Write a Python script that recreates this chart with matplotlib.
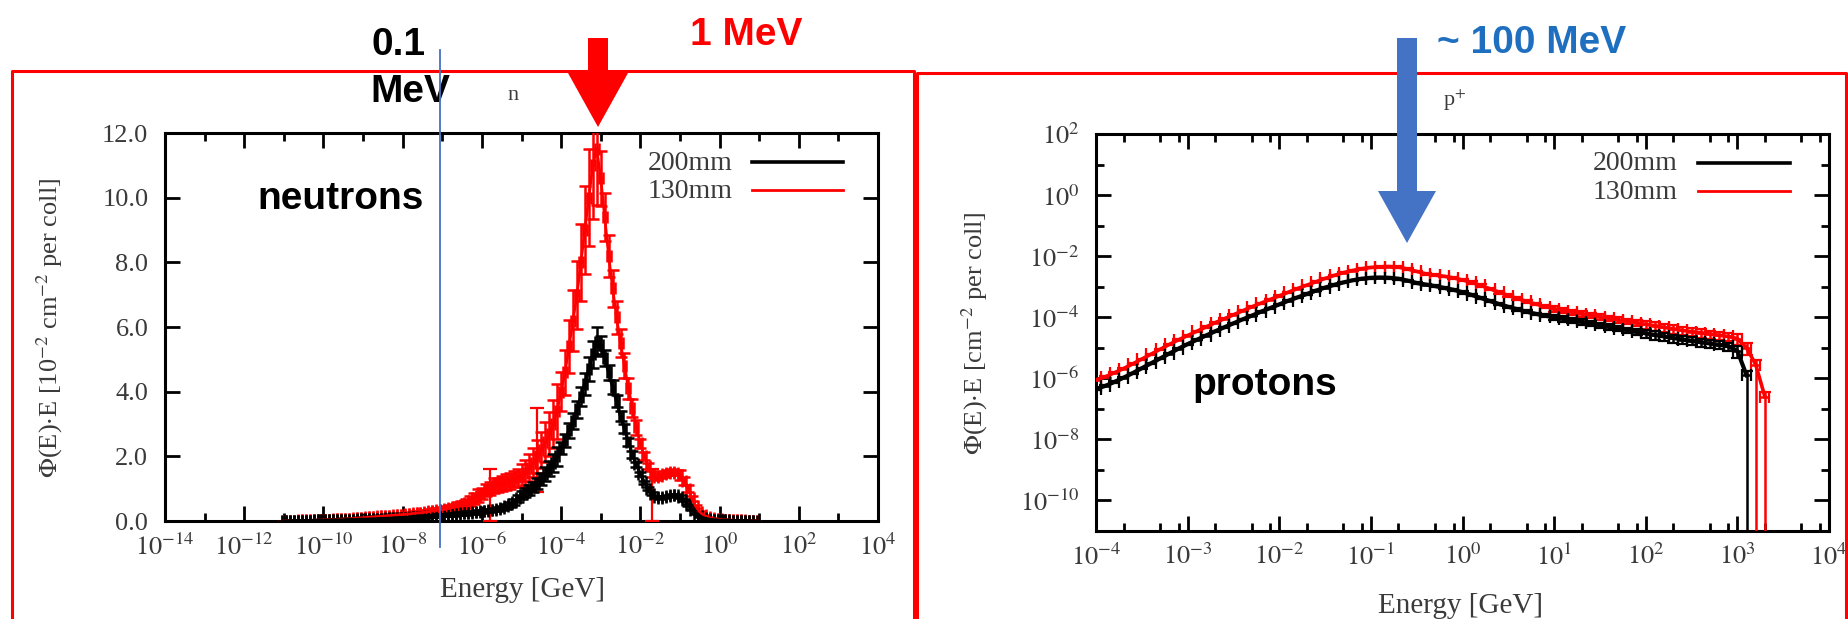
import numpy as np
import matplotlib
matplotlib.use("Agg")
import matplotlib.pyplot as plt
from matplotlib.patches import Polygon
from matplotlib.lines import Line2D
import matplotlib.ticker as mticker

plt.rcParams['font.family'] = ['Liberation Serif', 'DejaVu Serif']
plt.rcParams['mathtext.fontset'] = 'stix'

# ---------------- data ----------------
# Neutron spectra (lethargy, 10^-2 cm^-2 per coll), 0.1-decade bins, log10(E/GeV) from -11.0
n_logE_start = -11.0
n_logE_step = 0.1
n_130mm = [
    0.01, 0.01, 0.01, 0.01, 0.02, 0.02, 0.02, 0.02, 0.03, 0.03,
    0.03, 0.04, 0.04, 0.05, 0.05, 0.06, 0.06, 0.07, 0.08, 0.09,
    0.10, 0.11, 0.12, 0.13, 0.14, 0.15, 0.16, 0.17, 0.18, 0.19,
    0.20, 0.21, 0.22, 0.24, 0.25, 0.26, 0.28, 0.30, 0.32, 0.33,
    0.35, 0.37, 0.40, 0.43, 0.46, 0.50, 0.55, 0.62, 0.70, 0.78,
    0.85, 0.95, 1.00, 1.10, 1.12, 1.15, 1.20, 1.25, 1.30, 1.35,
    1.40, 1.50, 1.65, 1.80, 2.00, 2.20, 2.45, 2.70, 3.00, 3.40,
    4.00, 4.60, 5.40, 6.20, 7.00, 8.00, 9.00, 10.0, 11.0, 11.5,
    10.6, 9.40, 8.20, 7.20, 6.30, 5.50, 4.80, 4.10, 3.50, 2.90,
    2.40, 2.00, 1.70, 1.45, 1.35, 1.40, 1.45, 1.50, 1.52, 1.50,
    1.42, 1.25, 1.00, 0.70, 0.45, 0.28, 0.18, 0.12, 0.08, 0.06,
    0.05, 0.04, 0.03, 0.03, 0.02, 0.02, 0.02, 0.01, 0.01, 0.01,
]
n_200mm = [
    0.00, 0.00, 0.01, 0.01, 0.01, 0.01, 0.01, 0.01, 0.02, 0.02,
    0.02, 0.02, 0.03, 0.03, 0.03, 0.03, 0.04, 0.04, 0.04, 0.05,
    0.05, 0.05, 0.06, 0.06, 0.07, 0.07, 0.08, 0.08, 0.09, 0.09,
    0.10, 0.10, 0.11, 0.12, 0.12, 0.13, 0.14, 0.15, 0.16, 0.17,
    0.18, 0.19, 0.20, 0.21, 0.22, 0.24, 0.25, 0.26, 0.27, 0.28,
    0.30, 0.31, 0.33, 0.35, 0.37, 0.40, 0.45, 0.52, 0.60, 0.70,
    0.80, 0.88, 0.96, 1.05, 1.15, 1.30, 1.45, 1.62, 1.80, 2.00,
    2.25, 2.50, 2.80, 3.10, 3.45, 3.85, 4.25, 4.70, 5.15, 5.55,
    5.45, 5.05, 4.60, 4.15, 3.70, 3.25, 2.85, 2.45, 2.05, 1.75,
    1.45, 1.20, 1.00, 0.85, 0.75, 0.72, 0.74, 0.78, 0.80, 0.80,
    0.75, 0.65, 0.50, 0.35, 0.22, 0.14, 0.09, 0.06, 0.04, 0.03,
    0.02, 0.02, 0.02, 0.01, 0.01, 0.01, 0.01, 0.01, 0.00, 0.00,
]
# relative statistical errors, one per decade (-11 ... 0)
n_relerr_130mm = [0.3, 0.3, 0.3, 0.25, 0.25, 0.2, 0.25, 0.15, 0.08, 0.06, 0.10, 0.2]
n_relerr_200mm = [0.3, 0.3, 0.3, 0.25, 0.2, 0.15, 0.15, 0.08, 0.05, 0.04, 0.06, 0.15]
# bins of the 130mm spectrum with large fluctuations
n130_spike_logE = [-5.8, -4.6, -1.7]
n130_spike_err_lo = [1.0, 1.1, 1.45]
n130_spike_err_hi = [0.6, 1.5, 0.15]

# Proton spectra, log10 of flux (cm^-2 per coll), 0.1-decade bins from log10(E/GeV) = -4.0
p_logE_start = -4.0
p_200mm_log = [
    -6.35, -6.25, -6.12, -5.98, -5.83, -5.67, -5.51, -5.35, -5.19, -5.03,
    -4.88, -4.74, -4.60, -4.46, -4.33, -4.20, -4.07, -3.95, -3.82, -3.70,
    -3.58, -3.46, -3.35, -3.24, -3.13, -3.03, -2.94, -2.86, -2.79, -2.74,
    -2.71, -2.70, -2.71, -2.74, -2.80, -2.88, -2.93, -2.98, -3.04, -3.10,
    -3.18, -3.27, -3.37, -3.47, -3.57, -3.66, -3.74, -3.82, -3.89, -3.95,
    -4.00, -4.05, -4.10, -4.15, -4.20, -4.26, -4.31, -4.37, -4.42, -4.47,
    -4.53, -4.58, -4.63, -4.68, -4.73, -4.77, -4.82, -4.86, -4.90, -4.95,
    -5.10, -5.90,
]
p_130mm_log = [
    -6.05, -5.95, -5.82, -5.68, -5.53, -5.37, -5.21, -5.05, -4.89, -4.74,
    -4.60, -4.46, -4.32, -4.18, -4.05, -3.92, -3.79, -3.66, -3.54, -3.42,
    -3.30, -3.18, -3.06, -2.95, -2.84, -2.73, -2.63, -2.54, -2.47, -2.41,
    -2.37, -2.35, -2.34, -2.36, -2.42, -2.50, -2.58, -2.62, -2.66, -2.71,
    -2.78, -2.86, -2.96, -3.07, -3.18, -3.29, -3.39, -3.48, -3.57, -3.65,
    -3.72, -3.78, -3.83, -3.88, -3.93, -3.98, -4.03, -4.08, -4.13, -4.18,
    -4.23, -4.28, -4.33, -4.38, -4.43, -4.47, -4.51, -4.55, -4.59, -4.63,
    -4.70, -5.00, -5.55, -6.60,
]
p_relerr = [0.04, 0.04, 0.05, 0.06, 0.10, 0.20, 0.30, 0.40]   # per decade -4 ... 3
p_cut_200mm = [3.1]          # last bins whose error bar reaches zero
p_cut_130mm = [3.2, 3.3]

legend_labels = ["200mm", "130mm"]
colors = {"200mm": "#000000", "130mm": "#FF0000"}

# ---------------- figure ----------------
W, H = 1849, 619
fig = plt.figure(figsize=(W / 100, H / 100), dpi=100)
fig.patch.set_facecolor("white")


def fxy(x, y):
    return (x / W, 1 - y / H)


axL = fig.add_axes([165 / W, 1 - 521 / H, (878 - 165) / W, (521 - 133) / H])
axR = fig.add_axes([1096 / W, 1 - 531 / H, (1829 - 1096) / W, (531 - 134) / H])

tick_grey = "#3a3a3a"


def pow_fmt(v, pos):
    return r"$10^{%d}$" % int(round(np.log10(v)))


# ---- neutrons ----
nlogE = n_logE_start + n_logE_step * np.arange(len(n_200mm))
nE = 10 ** nlogE
n_xlo = nE - 10 ** (nlogE - n_logE_step / 2)
n_xhi = 10 ** (nlogE + n_logE_step / 2) - nE
dec_idx = np.floor(nlogE - n_logE_start + 1e-9).astype(int)

for lab, vals, rel, lw in [("130mm", n_130mm, n_relerr_130mm, 2.0),
                           ("200mm", n_200mm, n_relerr_200mm, 2.4)]:
    v = np.array(vals)
    err = v * np.array(rel)[dec_idx]
    axL.errorbar(nE, v, yerr=err, xerr=[n_xlo, n_xhi], fmt='-', color=colors[lab],
                 lw=lw, elinewidth=1.8, capsize=4.5, capthick=1.8, zorder=3)

sp_idx = [int(round((e - n_logE_start) / n_logE_step)) for e in n130_spike_logE]
sp_E = 10 ** np.array(n130_spike_logE)
sp_v = np.array(n_130mm)[sp_idx]
axL.errorbar(sp_E, sp_v, yerr=[n130_spike_err_lo, n130_spike_err_hi], fmt='none',
             ecolor=colors["130mm"], elinewidth=1.6, capsize=5, capthick=1.6, zorder=2.9)

axL.set_xscale('log')
axL.set_xlim(1e-14, 1e4)
axL.set_ylim(0, 12)
axL.xaxis.set_major_locator(mticker.FixedLocator([10.0 ** k for k in range(-14, 5, 2)]))
axL.xaxis.set_minor_locator(mticker.FixedLocator([10.0 ** k for k in range(-13, 4, 2)]))
axL.xaxis.set_major_formatter(mticker.FuncFormatter(pow_fmt))
axL.xaxis.set_minor_formatter(mticker.NullFormatter())
axL.yaxis.set_major_locator(mticker.MultipleLocator(2))
axL.yaxis.set_minor_locator(mticker.NullLocator())
axL.yaxis.set_major_formatter(mticker.FormatStrFormatter('%.1f'))

# ---- protons ----
plogE_b = p_logE_start + 0.1 * np.arange(len(p_200mm_log))
plogE_r = p_logE_start + 0.1 * np.arange(len(p_130mm_log))
for lab, logE, logv, cuts, lw in [("130mm", plogE_r, p_130mm_log, p_cut_130mm, 2.6),
                                  ("200mm", plogE_b, p_200mm_log, p_cut_200mm, 3.0)]:
    E = 10 ** logE
    v = 10 ** np.array(logv)
    rel = np.array(p_relerr)[np.clip(np.floor(logE - p_logE_start + 1e-9).astype(int), 0, 7)]
    lo = v * rel
    hi = v * rel
    for c in cuts:
        k = int(round((c - p_logE_start) / 0.1))
        lo[k] = v[k] - 1e-13
    xlo = E - 10 ** (logE - 0.05)
    xhi = 10 ** (logE + 0.05) - E
    axR.errorbar(E, v, yerr=[lo, hi], xerr=[xlo, xhi], fmt='-', color=colors[lab],
                 lw=lw, elinewidth=1.8, capsize=4, capthick=1.6, zorder=3)

axR.set_xscale('log')
axR.set_yscale('log')
axR.set_xlim(1e-4, 1e4)
axR.set_ylim(1e-11, 1e2)
axR.xaxis.set_major_locator(mticker.FixedLocator([10.0 ** k for k in range(-4, 5)]))
axR.xaxis.set_minor_locator(mticker.LogLocator(base=10, subs=(2.0, 5.0, 8.0), numticks=30))
axR.xaxis.set_major_formatter(mticker.FuncFormatter(pow_fmt))
axR.xaxis.set_minor_formatter(mticker.NullFormatter())
axR.yaxis.set_major_locator(mticker.FixedLocator([10.0 ** k for k in range(-10, 3, 2)]))
axR.yaxis.set_minor_locator(mticker.FixedLocator([10.0 ** k for k in range(-11, 2, 2)]))
axR.yaxis.set_major_formatter(mticker.FuncFormatter(pow_fmt))
axR.yaxis.set_minor_formatter(mticker.NullFormatter())

for ax in (axL, axR):
    for s in ax.spines.values():
        s.set_linewidth(2.2)
        s.set_color("black")
    ax.tick_params(which='both', direction='in', top=True, right=True,
                   width=2.0, color='black', labelcolor=tick_grey, labelsize=19)
    ax.tick_params(which='major', length=11)
    ax.tick_params(which='minor', length=6)
    ax.tick_params(axis='y', pad=12)
    ax.tick_params(axis='x', pad=9)

# axis labels
fig.text(*fxy(50, 328), r"$\Phi$(E)$\cdot$E [10$^{-2}$ cm$^{-2}$ per coll]", rotation=90,
         ha='center', va='center', fontsize=19, color=tick_grey)
fig.text(*fxy(975, 333), r"$\Phi$(E)$\cdot$E [cm$^{-2}$ per coll]", rotation=90,
         ha='center', va='center', fontsize=19, color=tick_grey)
fig.text(*fxy(522, 590), "Energy [GeV]", ha='center', va='center', fontsize=21, color=tick_grey)
fig.text(*fxy(1461, 606), "Energy [GeV]", ha='center', va='center', fontsize=21, color=tick_grey)
fig.text(*fxy(513, 96), "n", ha='center', va='center', fontsize=16, color=tick_grey)
fig.text(*fxy(1455, 100), r"p$^{+}$", ha='center', va='center', fontsize=16, color=tick_grey)

# legends (drawn by hand, right-aligned labels)
for (tx, lx0, lx1, y0), ax in [((733, 752, 843, 162), axL), ((1678, 1698, 1790, 163), axR)]:
    for i, lab in enumerate(legend_labels):
        y = y0 + i * 28
        fig.text(*fxy(tx, y + 1), lab, ha='right', va='center', fontsize=20, color=tick_grey)
        fig.add_artist(Line2D([lx0 / W, lx1 / W], [1 - y / H, 1 - y / H], transform=fig.transFigure,
                              color=colors[lab], lw=2.6 if lab == "200mm" else 2.0))

# overlay annotations
sans = ['Liberation Sans', 'DejaVu Sans']
fig.text(*fxy(372, 55), "0.1", fontsize=28, fontweight='bold', family=sans, va='baseline')
fig.text(*fxy(370, 102), "MeV", fontsize=28, fontweight='bold', family=sans, va='baseline')
fig.text(*fxy(690, 45), "1 MeV", fontsize=28, fontweight='bold', family=sans, va='baseline', color='#FF0000')
fig.text(*fxy(1437, 53), "~ 100 MeV", fontsize=28, fontweight='bold', family=sans, va='baseline', color='#1F6FC0')
fig.text(*fxy(257, 209), "neutrons", fontsize=28, fontweight='bold', family=sans, va='baseline')
fig.text(*fxy(1192, 395), "protons", fontsize=28, fontweight='bold', family=sans, va='baseline')

# red frames
for x0, x1, yt in [(12, 914, 71), (917, 1846, 73)]:
    fig.add_artist(Line2D([x0 / W, x0 / W, x1 / W, x1 / W], [1 - 660 / H, 1 - yt / H, 1 - yt / H, 1 - 660 / H],
                          transform=fig.transFigure, color='#FF0000', lw=2.2))

# blue marker line
fig.add_artist(Line2D([440 / W, 440 / W], [1 - 50 / H, 1 - 547 / H], transform=fig.transFigure,
                      color='#4472C4', lw=1.3, zorder=5))

# arrows
red_arrow = [(588, 38), (608, 38), (608, 73), (628, 73), (598, 127), (568, 73), (588, 73)]
blue_arrow = [(1397, 38), (1417, 38), (1417, 191), (1436, 191), (1407, 243), (1378, 191), (1397, 191)]
for pts, col in [(red_arrow, '#FF0000'), (blue_arrow, '#4472C4')]:
    fig.add_artist(Polygon([fxy(x, y) for x, y in pts], closed=True, transform=fig.transFigure,
                           facecolor=col, edgecolor='none', zorder=6))

fig.savefig("out.png", dpi=100, facecolor='white')
